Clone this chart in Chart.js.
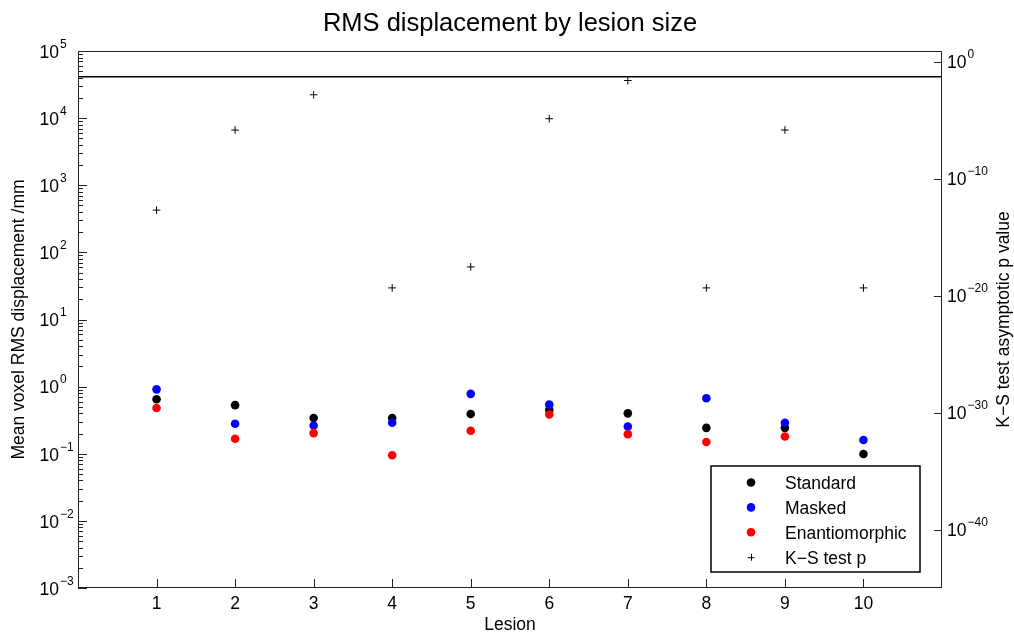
<!DOCTYPE html>
<html>
<head>
<meta charset="utf-8">
<script src="https://cdn.jsdelivr.net/npm/chart.js@4.4.1/dist/chart.umd.min.js"></script>
<style>
  html, body { margin: 0; padding: 0; background: #fff; }
</style>
</head>
<body>
<canvas id="rms-chart" width="1014" height="635"></canvas>
<script>
// values
const lesions = [1, 2, 3, 4, 5, 6, 7, 8, 9, 10];
const standard = [0.65, 0.53, 0.34, 0.34, 0.39, 0.45, 0.40, 0.243, 0.243, 0.099];
const masked = [0.91, 0.28, 0.264, 0.29, 0.78, 0.54, 0.255, 0.67, 0.29, 0.16];
const enantiomorphic = [0.48, 0.167, 0.203, 0.095, 0.22, 0.385, 0.196, 0.15, 0.181, 0.04];
const ksP = [2.0e-13, 1.4e-6, 1.45e-3, 4.5e-20, 2.8e-18, 1.3e-5, 0.024, 4.5e-20, 1.4e-6, 4.5e-20];
const pThreshold = 0.05;
const xRange = [0, 11];
const leftExponents = [-3, -2, -1, 0, 1, 2, 3, 4, 5];
const rightExponents = [0, -10, -20, -30, -40];

const FONT = '"Liberation Sans", Arial, Helvetica, sans-serif';
Chart.defaults.font.family = FONT;
Chart.defaults.color = '#000';

const pts = vals => lesions.map((l, i) => ({x: l, y: vals[i]}));
const supText = e => (e < 0 ? '\u2212' + Math.abs(e) : String(e));

function drawPow(ctx, x, ty, exp, side) {
  ctx.save();
  ctx.fillStyle = '#000';
  ctx.textBaseline = 'alphabetic';
  ctx.font = '17.5px ' + FONT;
  const baseW = ctx.measureText('10').width;
  const bx = side === 'left' ? x - baseW : x;
  ctx.textAlign = 'left';
  ctx.fillText('10', bx, ty + 0.5 + 6.3);
  ctx.font = '12px ' + FONT;
  ctx.fillText(supText(exp), bx + baseW + 1, ty - 7.5 + 4.3);
  ctx.restore();
}

const decor = {
  id: 'decor',
  afterDatasetsDraw(chart) {
    const {ctx, chartArea: a, scales} = chart;
    ctx.save();
    ctx.strokeStyle = '#222';
    ctx.lineWidth = 1;
    // box
    ctx.strokeRect(Math.round(a.left) + 0.5, Math.round(a.top) + 0.5,
                   Math.round(a.right - a.left) - 1, Math.round(a.bottom - a.top) - 1);
    // left ticks (major + minor, inward)
    const yl = scales.y;
    ctx.beginPath();
    leftExponents.forEach(e => {
      const py = Math.round(yl.getPixelForValue(Math.pow(10, e))) + 0.5;
      ctx.moveTo(a.left, py); ctx.lineTo(a.left + 9, py);
      if (e < leftExponents[leftExponents.length - 1]) {
        for (let k = 2; k <= 9; k++) {
          const my = Math.round(yl.getPixelForValue(k * Math.pow(10, e))) + 0.5;
          ctx.moveTo(a.left, my); ctx.lineTo(a.left + 5, my);
        }
      }
    });
    // right ticks
    const yr = scales.y2;
    rightExponents.forEach(e => {
      const py = Math.round(yr.getPixelForValue(Math.pow(10, e))) + 0.5;
      ctx.moveTo(a.right, py); ctx.lineTo(a.right - 8, py);
    });
    // bottom ticks
    const xs = scales.x;
    lesions.forEach(l => {
      const px = Math.round(xs.getPixelForValue(l)) + 0.5;
      ctx.moveTo(px, a.bottom); ctx.lineTo(px, a.bottom - 9);
    });
    ctx.stroke();

    // tick labels with superscripts
    leftExponents.forEach(e => drawPow(ctx, a.left - 19, yl.getPixelForValue(Math.pow(10, e)), e, 'left'));
    rightExponents.forEach(e => drawPow(ctx, a.right + 5, yr.getPixelForValue(Math.pow(10, e)), e, 'right'));

    // right axis title (reads bottom to top)
    ctx.save();
    ctx.translate(1004, (a.top + a.bottom) / 2);
    ctx.rotate(-Math.PI / 2);
    ctx.font = '17.5px ' + FONT;
    ctx.fillStyle = '#000';
    ctx.textAlign = 'center';
    ctx.textBaseline = 'middle';
    ctx.fillText('K\u2212S test asymptotic p value', 0, 0);
    ctx.restore();

    // legend box
    const lx = 711, ly = 466, lw = 209, lh = 106;
    ctx.fillStyle = '#fff';
    ctx.fillRect(lx, ly, lw, lh);
    ctx.strokeStyle = '#000';
    ctx.lineWidth = 1.5;
    ctx.strokeRect(lx, ly, lw, lh);
    const items = chart.data.datasets.filter(d => d.inLegend).sort((p, q) => p.legendRank - q.legendRank);
    items.forEach((d, i) => {
      const cy = 482.5 + i * 24.9;
      const mx = 751;
      if (d.pointStyle === 'cross') {
        ctx.strokeStyle = d.borderColor;
        ctx.lineWidth = 1;
        ctx.beginPath();
        ctx.moveTo(mx - 3.5, cy + 0.5); ctx.lineTo(mx + 3.5, cy + 0.5);
        ctx.moveTo(mx + 0.5, cy - 3.5); ctx.lineTo(mx + 0.5, cy + 3.5);
        ctx.stroke();
      } else {
        ctx.fillStyle = d.backgroundColor;
        ctx.beginPath();
        ctx.arc(mx, cy, 4.3, 0, Math.PI * 2);
        ctx.fill();
      }
      ctx.fillStyle = '#000';
      ctx.font = '17.5px ' + FONT;
      ctx.textAlign = 'left';
      ctx.textBaseline = 'alphabetic';
      ctx.fillText(d.label, 785, cy + 6.3);
    });
    ctx.restore();
  }
};

new Chart(document.getElementById('rms-chart'), {
  type: 'scatter',
  data: {
    datasets: [
      {
        label: 'Standard', data: pts(standard), yAxisID: 'y',
        backgroundColor: '#000000', borderColor: '#000000',
        pointRadius: 4.3, borderWidth: 0, order: 4, inLegend: true, legendRank: 0
      },
      {
        label: 'Masked', data: pts(masked), yAxisID: 'y',
        backgroundColor: '#0000ff', borderColor: '#0000ff',
        pointRadius: 4.3, borderWidth: 0, order: 3, inLegend: true, legendRank: 1
      },
      {
        label: 'Enantiomorphic', data: pts(enantiomorphic), yAxisID: 'y',
        backgroundColor: '#ff0000', borderColor: '#ff0000',
        pointRadius: 4.3, borderWidth: 0, order: 2, inLegend: true, legendRank: 2
      },
      {
        label: 'K\u2212S test p', data: pts(ksP), yAxisID: 'y2',
        pointStyle: 'cross', pointRadius: 3.8, borderWidth: 1,
        borderColor: '#000000', backgroundColor: '#000000', order: 1, inLegend: true, legendRank: 3
      },
      {
        label: 'p = 0.05', yAxisID: 'y2', showLine: true,
        data: xRange.map(x => ({x: x, y: pThreshold})),
        borderColor: '#000000', borderWidth: 1.5, pointRadius: 0, order: 0
      }
    ]
  },
  options: {
    responsive: false,
    animation: false,
    layout: { padding: { left: 6, right: 0, top: 0, bottom: 0 } },
    plugins: {
      legend: { display: false },
      tooltip: { enabled: false },
      title: {
        display: true,
        text: 'RMS displacement by lesion size',
        font: { size: 25.5, weight: 'normal' },
        color: '#000',
        padding: { top: 9, bottom: 11.4 }
      }
    },
    scales: {
      x: {
        type: 'linear', min: xRange[0], max: xRange[1],
        afterBuildTicks: s => { s.ticks = lesions.map(v => ({value: v})); },
        afterFit: s => { s.height = 47; },
        grid: { display: false },
        border: { display: false },
        ticks: { font: { size: 17.5 }, color: '#000', padding: -2, maxRotation: 0 },
        title: { display: true, text: 'Lesion', font: { size: 17.5 }, color: '#000', padding: { top: 0, bottom: -1 } }
      },
      y: {
        type: 'logarithmic', position: 'left', min: 1e-3, max: 1e5, bounds: 'data',
        afterBuildTicks: s => { s.ticks = leftExponents.map(e => ({value: Math.pow(10, e)})); },
        afterFit: s => { s.width = 72; },
        grid: { display: false },
        border: { display: false },
        ticks: { display: false },
        title: { display: true, text: 'Mean voxel RMS displacement /mm', font: { size: 17.5 }, color: '#000', padding: { top: 2.5, bottom: 0 } }
      },
      y2: {
        type: 'logarithmic', position: 'right', min: 1e-45, max: 8, bounds: 'data',
        afterBuildTicks: s => { s.ticks = rightExponents.map(e => ({value: Math.pow(10, e)})); },
        afterFit: s => { s.width = 72; },
        grid: { display: false },
        border: { display: false },
        ticks: { display: false }
      }
    }
  },
  plugins: [decor]
});
</script>
</body>
</html>
